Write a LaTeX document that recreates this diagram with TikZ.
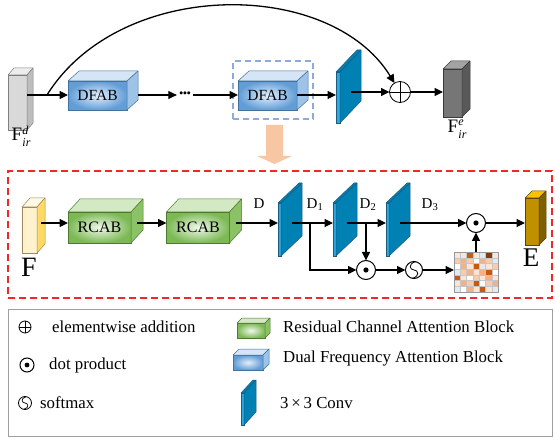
\documentclass[tikz,border=0pt]{standalone}
\usepackage{fontspec}
\setmainfont{Liberation Serif}
\usetikzlibrary{arrows.meta,calc}

\definecolor{gfront}{HTML}{D9D9D9}
\definecolor{gtop}{HTML}{EDEDED}
\definecolor{gside}{HTML}{BDBDBD}
\definecolor{gedge}{HTML}{7F7F7F}
\definecolor{ofront}{HTML}{767676}
\definecolor{otop}{HTML}{A3A3A3}
\definecolor{oside}{HTML}{595959}
\definecolor{oedge}{HTML}{3A3A3A}
\definecolor{bin}{HTML}{E4EFFA}
\definecolor{bout}{HTML}{629DD6}
\definecolor{btop}{HTML}{D5E5F5}
\definecolor{bside}{HTML}{9DC3E6}
\definecolor{bedge}{HTML}{41719C}
\definecolor{gin}{HTML}{F1F8EC}
\definecolor{gout}{HTML}{7CB955}
\definecolor{grtop}{HTML}{D3E9C4}
\definecolor{grside}{HTML}{8CC266}
\definecolor{gredge}{HTML}{4E7A30}
\definecolor{yfront}{HTML}{FFF2CC}
\definecolor{ytop}{HTML}{FFF8E2}
\definecolor{yside}{HTML}{FFD966}
\definecolor{yedge}{HTML}{9C8B60}
\definecolor{efront}{HTML}{BF9000}
\definecolor{etop}{HTML}{FFC000}
\definecolor{eside}{HTML}{7F6000}
\definecolor{eedge}{HTML}{5A4500}
\definecolor{cstrip}{HTML}{2DA9E1}
\definecolor{cside}{HTML}{0081B4}
\definecolor{cedge}{HTML}{1C5A80}
\definecolor{peach}{HTML}{F7C6A3}
\definecolor{redbox}{HTML}{F02828}
\definecolor{bluebox}{HTML}{8EA9DB}
\definecolor{mc0}{HTML}{FFFFFF}
\definecolor{mc1}{HTML}{FBE5D6}
\definecolor{mc2}{HTML}{F8CBAD}
\definecolor{mc3}{HTML}{F4B183}
\definecolor{mc4}{HTML}{C55A11}
\definecolor{mc5}{HTML}{DEEBF7}
\definecolor{mc6}{HTML}{843C0C}

% name, dx, dy(up), top fill, side fill, edge colour
\newcommand\cubefaces[6]{%
  \draw[draw=#6,line width=0.5pt,fill=#4,line join=round] (#1.north west) -- ++(#2,-#3) -- ([shift={(#2,-#3)}]#1.north east) -- (#1.north east) -- cycle;
  \draw[draw=#6,line width=0.5pt,fill=#5,line join=round] (#1.north east) -- ([shift={(#2,-#3)}]#1.north east) -- ([shift={(#2,-#3)}]#1.south east) -- (#1.south east) -- cycle;
  \coordinate (#1-back) at ([shift={(#2,-#3)}]#1.east);
  \coordinate (#1-mid) at ($(#1.east)!0.5!(#1-back)$);
}
% stacked super/subscript label
\newcommand\irlabel[1]{F\kern0.4pt{\fontsize{12}{10}\selectfont\itshape\begin{tabular}[c]{@{}l@{}}#1\\[1.5pt]ir\end{tabular}}}

\begin{document}
\begin{tikzpicture}[x=1pt,y=-1pt,
  cubebox/.style={draw, outer sep=0pt, inner sep=0pt, line width=0.5pt},
  dfab/.style={cubebox, draw=bedge, inner color=bin, outer color=bout, minimum width=59, minimum height=29, font=\fontsize{15.5}{17}\selectfont},
  rcab/.style={cubebox, draw=gredge, inner color=gin, outer color=gout, minimum width=63, minimum height=31, font=\fontsize{16}{18}\selectfont},
  convbox/.style={cubebox, draw=cedge, fill=cstrip, line width=0.4pt},
  arr/.style={line width=1.1pt, -{Triangle[length=8.5pt,width=8pt]}},
  opnode/.style={circle, draw, line width=1pt, inner sep=0pt, outer sep=0pt},
  lbl/.style={inner sep=0pt},
  dlab/.style={inner sep=0pt, font=\fontsize{15}{17}\selectfont},
  legtxt/.style={inner sep=0pt, anchor=west, font=\fontsize{16.8}{18}\selectfont},
]
\useasboundingbox (0,0) rectangle (555,441);

% ---------- frames ----------
\node[draw=redbox, dash pattern=on 7pt off 4pt, line width=1.5pt, minimum width=544, minimum height=127, inner sep=0pt] (redframe) at (280,234.5) {};
\node[draw=gray!75, line width=0.8pt, minimum width=544, minimum height=127, inner sep=0pt] (legend) at (280,372.5) {};
\node[draw=bluebox, dash pattern=on 6pt off 4pt, line width=1.3pt, minimum width=80, minimum height=58, inner sep=0pt] (selbox) at (273,90) {};

% ---------- top row ----------
\coordinate (rowt) at (0,95);
\node[cubebox, draw=gedge, fill=gfront, minimum width=19, minimum height=55] (in1) at (17.5,102.5) {};
\cubefaces{in1}{6}{7}{gtop}{gside}{gedge}
\node[lbl, font=\fontsize{19}{20}\selectfont] (lin) at (21,138) {\irlabel{d}};

\node[dfab] (d1) at (97.5,95.5) {DFAB};
\cubefaces{d1}{11}{10}{btop}{bside}{bedge}
\node[inner sep=2pt, font=\fontsize{12.5}{12}\selectfont] (dots) at (185,95) {\textbullet\kern-0.6pt\textbullet\kern-0.6pt\textbullet};
\node[dfab] (d2) at (267.5,95.5) {DFAB};
\cubefaces{d2}{11}{10}{btop}{bside}{bedge}

\node[convbox, minimum width=4, minimum height=51] (c0) at (338,97.5) {};
\cubefaces{c0}{21}{22}{cside}{cside}{cedge}

\node[opnode, minimum size=21, line width=0.8pt] (plus) at (400,92) {};
\draw[line width=0.8pt] (plus.north) -- (plus.south) (plus.west) -- (plus.east);

\node[cubebox, draw=oedge, fill=ofront, minimum width=19, minimum height=48] (out1) at (452.5,93) {};
\cubefaces{out1}{8}{8}{otop}{oside}{oedge}
\node[lbl, font=\fontsize{19}{20}\selectfont] (lout) at (457,130) {\irlabel{e}};

\draw[arr] (in1.east |- rowt) -- (d1.west |- rowt);
\coordinate (arcs) at (47,95);
\draw[arr, line width=1.3pt] (arcs) .. controls (120,-22) and (330,-22) .. (plus);
\draw[arr] (d1-back |- rowt) -- (dots.west |- rowt);
\draw[arr] (dots.east |- rowt) -- (d2.west |- rowt);
\draw[arr] (d2.east |- rowt) -- (c0.west |- rowt);
\draw[arr] (c0-mid |- plus) -- (plus);
\draw[arr] (plus) -- (plus -| out1.west);

% orange arrow
\fill[peach] (266,125) -- (283,125) -- (283,156) -- (292,156) -- (274.5,164) -- (257,156) -- (266,156) -- cycle;

% ---------- middle row ----------
\coordinate (rowm) at (0,223);
\node[cubebox, draw=yedge, fill=yfront, minimum width=15, minimum height=46] (fb) at (29.5,230) {};
\cubefaces{fb}{8}{9}{ytop}{yside}{yedge}
\node[lbl, font=\fontsize{28}{30}\selectfont] (lf) at (29,267) {F};

\node[rcab] (r1) at (99.5,227.5) {RCAB};
\cubefaces{r1}{12}{13}{grtop}{grside}{gredge}
\node[rcab] (r2) at (198,227.5) {RCAB};
\cubefaces{r2}{12}{13}{grtop}{grside}{gredge}

\node[convbox, minimum width=3, minimum height=53] (c1) at (279.5,229.5) {};
\cubefaces{c1}{21}{20}{cside}{cside}{cedge}
\node[convbox, minimum width=3, minimum height=53] (c2) at (334.5,229.5) {};
\cubefaces{c2}{21}{20}{cside}{cside}{cedge}
\node[convbox, minimum width=3, minimum height=53] (c3) at (387.5,229.5) {};
\cubefaces{c3}{21}{20}{cside}{cside}{cedge}

\node[dlab] (lD) at (259,204) {D};
\node[dlab] (lD1) at (315,205) {D\textsubscript{1}};
\node[dlab] (lD2) at (368,205) {D\textsubscript{2}};
\node[dlab] (lD3) at (430,205) {D\textsubscript{3}};

\node[opnode, minimum size=19] (dot1) at (476,223) {};
\fill (dot1.center) circle (2.6pt);
\node[opnode, minimum size=19] (dot2) at (366,270) {};
\fill (dot2.center) circle (2.6pt);
\node[opnode, minimum size=17] (soft) at (414,270) {};
\draw[line width=0.8pt] ([shift={(1.5,-8.3)}]soft.center) .. controls ([shift={(-6.5,-6)}]soft.center) and ([shift={(-4,0)}]soft.center) .. (soft.center) .. controls ([shift={(4,0)}]soft.center) and ([shift={(6.5,6)}]soft.center) .. ([shift={(-1.5,8.3)}]soft.center);

\foreach \rowv [count=\ri from 0] in {{1,1,4,1,5,6,1},{2,3,2,0,3,2,5},{0,3,1,4,5,1,2},{5,2,3,1,3,4,0},{4,1,0,2,1,3,1},{1,3,2,4,0,2,3},{5,0,3,1,4,1,5}} {
  \foreach \v [count=\ci from 0] in \rowv {
    \filldraw[fill=mc\v, draw=gray!45, line width=0.4pt] ({454+\ci*44/7},{252+\ri*40/7}) rectangle ++(44/7,40/7);
  }
}
\node[draw=gray!80, line width=0.5pt, minimum width=44, minimum height=40, inner sep=0pt, outer sep=0pt] (mat) at (476,272) {};

\node[cubebox, draw=eedge, fill=efront, minimum width=14, minimum height=47] (eb) at (532,221.5) {};
\cubefaces{eb}{7}{7}{etop}{eside}{eedge}
\node[lbl, font=\fontsize{27}{29}\selectfont] (le) at (531,258) {E};

\draw[arr] (fb-mid |- rowm) -- (r1.west |- rowm);
\draw[arr] (r1-mid |- rowm) -- (r2.west |- rowm);
\draw[arr] (r2-mid |- rowm) -- (c1.west |- rowm);
\draw[arr] (c1-mid |- rowm) -- (c2.west |- rowm);
\draw[arr] (c2-mid |- rowm) -- (c3.west |- rowm);
\draw[arr] (c3-mid |- rowm) -- (dot1);
\draw[arr] (dot1) -- (dot1 -| eb.west);
\coordinate (b1) at (310,223);
\draw[arr] (b1) |- (dot2);
\coordinate (b2) at (dot2 |- rowm);
\draw[arr] (b2) -- (dot2);
\draw[arr] (dot2) -- (soft);
\draw[arr] (soft) -- (soft -| mat.west);
\draw[arr] (mat.north -| dot1) -- (dot1);

% ---------- legend ----------
\node[opnode, minimum size=12, line width=0.8pt] (lgplus) at (25,327) {};
\draw[line width=0.8pt] (lgplus.north) -- (lgplus.south) (lgplus.west) -- (lgplus.east);
\node[legtxt] (lgt1) at (52,327) {elementwise addition};
\node[opnode, minimum size=14] (lgdot) at (27,365) {};
\fill (lgdot.center) circle (2.4pt);
\node[legtxt] (lgt2) at (49,365) {dot product};
\node[opnode, minimum size=13, line width=0.8pt] (lgsoft) at (25,403) {};
\draw[line width=0.7pt] ([shift={(1.2,-6.3)}]lgsoft.center) .. controls ([shift={(-5,-4.6)}]lgsoft.center) and ([shift={(-3,0)}]lgsoft.center) .. (lgsoft.center) .. controls ([shift={(3,0)}]lgsoft.center) and ([shift={(5,4.6)}]lgsoft.center) .. ([shift={(-1.2,6.3)}]lgsoft.center);
\node[legtxt] (lgt3) at (40,403) {softmax};

\node[cubebox, draw=gredge, inner color=gin, outer color=gout, minimum width=28, minimum height=15] (lgr) at (251,330.5) {};
\cubefaces{lgr}{5}{5}{grtop}{grside}{gredge}
\node[legtxt] (lgt4) at (283,327) {Residual Channel Attention Block};
\node[cubebox, draw=bedge, inner color=bin, outer color=bout, minimum width=30, minimum height=15] (lgb) at (248,362.5) {};
\cubefaces{lgb}{6}{6}{btop}{bside}{bedge}
\node[legtxt] (lgt5) at (283,358) {Dual Frequency Attention Block};
\node[convbox, minimum width=3, minimum height=32] (lgc) at (242.5,409) {};
\cubefaces{lgc}{12}{13}{cside}{cside}{cedge}
\node[legtxt] (lgt6) at (280,403) {3\,×\,3 Conv};
\end{tikzpicture}
\end{document}
